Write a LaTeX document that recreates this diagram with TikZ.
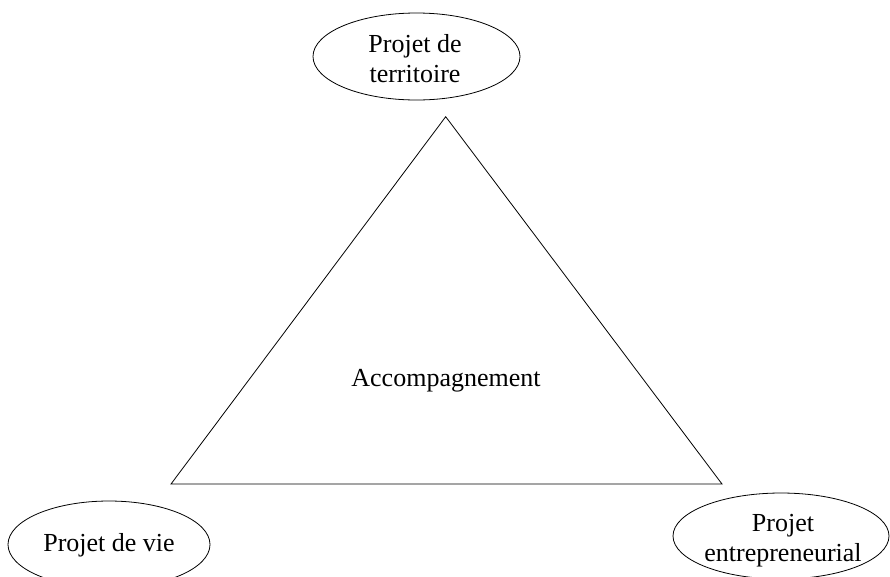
\documentclass[tikz,border=0pt]{standalone}
\usepackage{fontspec}
\setmainfont{Liberation Serif}
\usetikzlibrary{shapes.geometric}
\begin{document}
\begin{tikzpicture}[x=1pt,y=-1pt,
  ell/.style={draw, ellipse, line width=0.8pt, inner sep=0pt},
  lbl/.style={inner sep=0pt, align=center, font=\fontsize{26}{30}\selectfont},
  tri/.style={draw, line width=0.8pt, line join=miter}]
\useasboundingbox (0,0) rectangle (890,576);
% ellipses
\node[ell, minimum width=207pt, minimum height=87pt] (e1) at (416.5,56.5) {};
\node[ell, minimum width=202pt, minimum height=87pt] (e2) at (109,544.5) {};
\node[ell, minimum width=216pt, minimum height=86pt] (e3) at (781,536) {};
% texts
\node[lbl] (t1) at (415,58.6) {Projet de\\territoire};
\node[lbl] (t2) at (109,545) {Projet de vie};
\node[lbl] (t3) at (783,540.9) {Projet\\entrepreneurial};
% triangle
\coordinate (apex) at (445.7,116.7);
\coordinate (bl) at (171,484);
\coordinate (br) at (722,484);
\draw[tri] (apex) -- (bl) -- (br) -- cycle;
\node[lbl, anchor=base] (acc) at (446,386.5) {Accompagnement};
\end{tikzpicture}
\end{document}
